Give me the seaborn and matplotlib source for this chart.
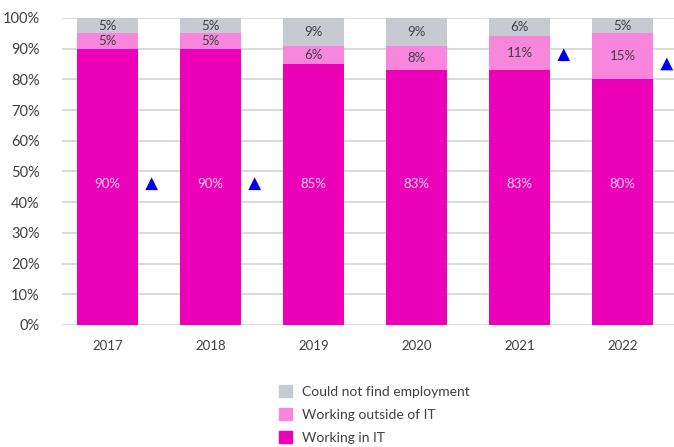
import matplotlib
matplotlib.use("Agg")
import matplotlib.pyplot as plt
from matplotlib.patches import Patch
import numpy as np
import pandas as pd
import seaborn as sns

years = ["2017", "2018", "2019", "2020", "2021", "2022"]
working_in_it = [90, 90, 85, 83, 83, 80]
working_outside_it = [5, 5, 6, 8, 11, 15]
no_employment = [5, 5, 9, 9, 6, 5]
# small markers drawn beside some of the bars
marker_values = [46, 46, np.nan, np.nan, 88, 85]

C_IT = "#EC00B8"
C_OUT = "#F986DD"
C_NONE = "#C7CAD0"
TXT = "#3F3F46"

sns.set_theme(style="white")
plt.rcParams["font.family"] = ["Lato", "DejaVu Sans"]

df = pd.DataFrame({
    "year": years,
    "it": working_in_it,
    "out": working_outside_it,
    "none": no_employment,
})
df["top_out"] = df["it"] + df["out"]
df["top_none"] = df["top_out"] + df["none"]

fig = plt.figure(figsize=(6.74, 4.47), dpi=100)
ax = fig.add_axes([0.092, 0.273, 0.908, 0.687])

for v in range(0, 101, 10):
    ax.axhline(v, color="#D9DBE1", lw=1.4, zorder=0)

bw = 0.59
for col, c, z in [("top_none", C_NONE, 2), ("top_out", C_OUT, 3), ("it", C_IT, 4)]:
    sns.barplot(data=df, x="year", y=col, order=years, color=c,
                width=bw, saturation=1, linewidth=0, edgecolor="none",
                ax=ax, zorder=z)

for i, row in df.iterrows():
    ax.text(i, 46, f"{row['it']}%", ha="center", va="center",
            color="#FBD3F1", fontsize=9.5, zorder=5)
    ax.text(i, row["it"] + row["out"] / 2, f"{row['out']}%", ha="center",
            va="center", color=TXT, fontsize=9.5, zorder=5)
    ax.text(i, row["top_out"] + row["none"] / 2, f"{row['none']}%",
            ha="center", va="center", color=TXT, fontsize=9.5, zorder=5)

mk = pd.DataFrame({"x": np.arange(len(years)) + 0.43, "y": marker_values}).dropna()
sns.scatterplot(data=mk, x="x", y="y", marker="^", color="#0000F0", s=85,
                edgecolor="none", ax=ax, zorder=6)

ax.set_xlim(-0.44, 5.5)
ax.set_ylim(0, 100)
ax.set_yticks(range(0, 101, 10))
ax.set_yticklabels([f"{v}%" for v in range(0, 101, 10)])
ax.set_xlabel("")
ax.set_ylabel("")
ax.tick_params(axis="y", length=0, pad=16, labelsize=10.5, labelcolor=TXT)
ax.tick_params(axis="x", length=0, pad=11, labelsize=9.5, labelcolor=TXT)
for s in ax.spines.values():
    s.set_visible(False)

handles = [Patch(color=C_NONE, label="Could not find employment"),
           Patch(color=C_OUT, label="Working outside of IT"),
           Patch(color=C_IT, label="Working in IT")]
fig.legend(handles=handles, loc="upper left", bbox_to_anchor=(0.414, 0.138),
           frameon=False, handlelength=0.95, handleheight=0.95,
           handletextpad=0.72, labelspacing=0.72, fontsize=10,
           labelcolor=TXT, borderaxespad=0, borderpad=0)

fig.savefig("out.png", dpi=100)
